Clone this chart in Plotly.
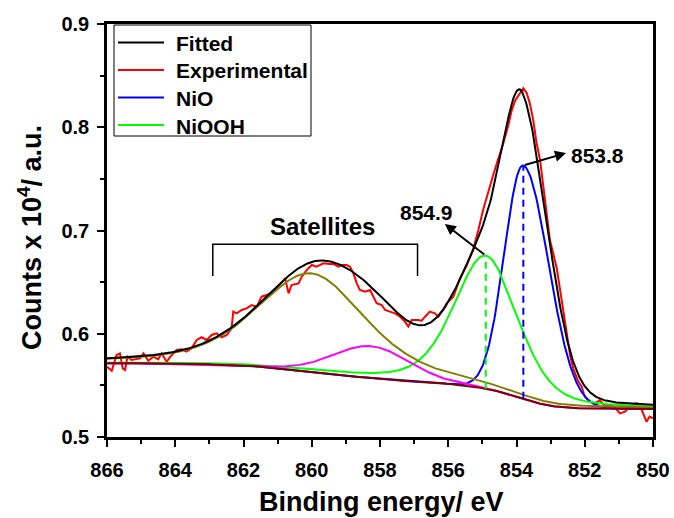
import numpy as np
import plotly.graph_objects as go

# Ni 2p3/2 spectrum: binding energy (eV) and counts (x 10^4)
exp_be = [866.00, 865.86, 865.72, 865.62, 865.54, 865.47, 865.40, 865.28, 865.18, 865.03,
          864.93, 864.79, 864.64, 864.50, 864.40, 864.25, 864.15, 863.96, 863.81, 863.67,
          863.52, 863.37, 863.23, 863.08, 862.93, 862.79, 862.64, 862.49, 862.35, 862.30,
          862.20, 862.05, 861.91, 861.76, 861.61, 861.47, 861.32, 861.17, 861.03, 860.88,
          860.78, 860.68, 860.59, 860.39, 860.29, 860.15, 860.00, 859.86, 859.66, 859.47,
          859.37, 859.22, 859.12, 858.98, 858.88, 858.78, 858.68, 858.59, 858.44, 858.29,
          858.19, 858.10, 857.95, 857.85, 857.71, 857.56, 857.41, 857.27, 857.17, 857.07,
          856.88, 856.78, 856.68, 856.54, 856.39, 856.29, 856.15, 856.05, 855.95, 855.85,
          855.66, 855.46, 855.27, 855.12, 854.98, 854.83, 854.68, 854.54, 854.39, 854.24,
          854.15, 854.04, 853.90, 853.80, 853.70, 853.61, 853.51, 853.41, 853.31, 853.21,
          853.12, 853.02, 852.82, 852.67, 852.53, 852.43, 852.34, 852.19, 852.09, 852.00,
          851.85, 851.70, 851.56, 851.41, 851.26, 851.12, 850.97, 850.82, 850.68, 850.48,
          850.34, 850.19, 850.10, 850.00]
exp_counts = [0.5681, 0.5642, 0.5794, 0.5810, 0.5665, 0.5649, 0.5778, 0.5746, 0.5752, 0.5762,
              0.5810, 0.5739, 0.5778, 0.5752, 0.5810, 0.5729, 0.5776, 0.5843, 0.5849, 0.5826,
              0.5859, 0.5940, 0.5966, 0.5940, 0.5988, 0.6004, 0.5966, 0.5988, 0.6053, 0.6214,
              0.6198, 0.6230, 0.6246, 0.6278, 0.6262, 0.6359, 0.6375, 0.6392, 0.6440, 0.6504,
              0.6537, 0.6392, 0.6472, 0.6488, 0.6553, 0.6617, 0.6666, 0.6650, 0.6682, 0.6676,
              0.6676, 0.6650, 0.6666, 0.6666, 0.6650, 0.6585, 0.6488, 0.6424, 0.6407, 0.6424,
              0.6359, 0.6295, 0.6278, 0.6230, 0.6214, 0.6198, 0.6165, 0.6117, 0.6069, 0.6133,
              0.6133, 0.6127, 0.6165, 0.6214, 0.6198, 0.6165, 0.6230, 0.6295, 0.6327, 0.6359,
              0.6530, 0.6660, 0.6820, 0.7000, 0.7199, 0.7380, 0.7540, 0.7690, 0.7840, 0.8020,
              0.8150, 0.8260, 0.8330, 0.8377, 0.8329, 0.8232, 0.8070, 0.7844, 0.7683, 0.7425,
              0.7167, 0.6908, 0.6634, 0.6311, 0.5988, 0.5794, 0.5665, 0.5536, 0.5487, 0.5390,
              0.5342, 0.5326, 0.5358, 0.5300, 0.5310, 0.5287, 0.5229, 0.5245, 0.5294, 0.5326,
              0.5268, 0.5148, 0.5197, 0.5181]

# Fitted components (pseudo-Voigt on a Shirley background);
# widths are given separately for the high- and low-binding-energy halves
comp_names = ["NiO", "NiOOH", "Satellite 1", "Satellite 2"]
comp_center = [853.8, 854.9, 860.0, 858.25]
comp_height = [0.226, 0.129, 0.095, 0.031]
comp_fwhm_high = [1.30, 2.2, 3.8, 2.6]
comp_fwhm_low = [1.75, 2.2, 3.8, 2.6]
comp_lorentz = [0.0, 0.4, 0.5, 0.0]
comp_color = ["#0000FF", "#00FF00", "#808000", "#FF00FF"]

# Shirley background end points (low / high binding-energy side)
bg_low = 0.527
bg_high = 0.5715

x_ticks = [866, 864, 862, 860, 858, 856, 854, 852, 850]
y_ticks = [0.5, 0.6, 0.7, 0.8, 0.9]


def pseudo_voigt(x, c, h, w_high, w_low, m):
    w = np.where(x >= c, w_high, w_low)
    u = 4.0 * (x - c) ** 2 / w ** 2
    return h * (m / (1.0 + u) + (1.0 - m) * np.exp(-np.log(2.0) * u))


be = np.linspace(850.0, 866.0, 641)
peaks = [pseudo_voigt(be, c, h, wh, wl, m)
         for c, h, wh, wl, m in zip(comp_center, comp_height, comp_fwhm_high,
                                    comp_fwhm_low, comp_lorentz)]
total = np.sum(peaks, axis=0)
step = be[1] - be[0]
cum = np.concatenate([[0.0], np.cumsum((total[1:] + total[:-1]) / 2.0 * step)])
background = bg_low + (bg_high - bg_low) * cum / cum[-1]
fitted = background + total

FONT = "Liberation Sans, Arial, sans-serif"

fig = go.Figure()

fig.add_trace(go.Scatter(x=exp_be, y=exp_counts, mode="lines",
                         line=dict(color="#FF0000", width=2), showlegend=False))
for name, pk, col in zip(comp_names, peaks, comp_color):
    fig.add_trace(go.Scatter(x=be, y=background + pk, mode="lines", name=name,
                             line=dict(color=col, width=2), showlegend=False))
fig.add_trace(go.Scatter(x=be, y=background, mode="lines",
                         line=dict(color="#800000", width=2), showlegend=False))
fig.add_trace(go.Scatter(x=be, y=fitted, mode="lines",
                         line=dict(color="#000000", width=2), showlegend=False))

# dashed markers at the NiO and NiOOH peak positions
peak_tops = []
for c, h, col in zip(comp_center[:2], comp_height[:2], comp_color[:2]):
    b = float(np.interp(c, be, background))
    peak_tops.append(b + h)
    fig.add_trace(go.Scatter(x=[c, c], y=[b, b + h], mode="lines",
                             line=dict(color=col, width=2, dash="7px,5px"),
                             showlegend=False))


def px_x(p):
    return (p - 107) / 546.0


def px_y(p):
    return (437 - p) / 413.0


def label(x, y, text, size, **kw):
    d = dict(xref="paper", yref="paper", x=x, y=y, text=text, showarrow=False,
             xanchor="center", yanchor="middle",
             font=dict(family=FONT, size=size, color="black", weight="bold"))
    d.update(kw)
    return d


# boxed key in the upper-left corner
shapes = [dict(type="rect", xref="paper", yref="paper",
               x0=px_x(114), x1=px_x(311), y0=px_y(136), y1=px_y(25),
               line=dict(color="black", width=1), fillcolor="white", layer="above")]
annotations = []
legend_items = [("Fitted", "#000000", 42.5), ("Experimental", "#FF0000", 70),
                ("NiO", "#0000FF", 97.5), ("NiOOH", "#00FF00", 125)]
for text, col, py in legend_items:
    shapes.append(dict(type="line", xref="paper", yref="paper",
                       x0=px_x(118), x1=px_x(164), y0=px_y(py), y1=px_y(py),
                       line=dict(color=col, width=2), layer="above"))
    annotations.append(label(px_x(174), px_y(py + 1), text, 21, xanchor="left"))

# satellites bracket
shapes.append(dict(type="path", xref="x", yref="y",
                   path="M 862.9 0.656 L 862.9 0.6866 L 856.9 0.6866 L 856.9 0.656",
                   line=dict(color="black", width=1.5)))
annotations.append(label(px_x(322), px_y(226), "Satellites", 24))

# arrows from the peak tops to the position labels
for (hx, hy), c, top in [((856.10, 0.7063), comp_center[1], peak_tops[1]),
                          ((852.55, 0.775), comp_center[0], peak_tops[0])]:
    annotations.append(dict(xref="x", yref="y", axref="x", ayref="y",
                            x=hx, y=hy, ax=c, ay=top,
                            text="", showarrow=True, arrowhead=2, arrowsize=1.1,
                            arrowwidth=2, arrowcolor="black", standoff=0, startstandoff=0))
annotations.append(label(px_x(426), px_y(212), f"{comp_center[1]:.1f}", 21))
annotations.append(label(px_x(597.5), px_y(155), f"{comp_center[0]:.1f}", 21))

# axis titles
annotations.append(label(px_x(381), px_y(502), "Binding energy/ eV", 27))
annotations.append(label(px_x(30), px_y(238), "Counts x 10<sup>4</sup>/ a.u.", 27,
                         textangle=-90))

axis_common = dict(showline=True, linecolor="black", linewidth=2.5, mirror=True,
                   ticks="outside", ticklen=7, tickwidth=2, tickcolor="black",
                   showgrid=False, zeroline=False, automargin=False,
                   tickfont=dict(family=FONT, size=20, color="black", weight="bold"))

fig.update_layout(
    width=674, height=518,
    margin=dict(l=107, r=21, t=24, b=81),
    paper_bgcolor="white", plot_bgcolor="white",
    showlegend=False,
    shapes=shapes, annotations=annotations,
    xaxis=dict(range=[866, 850], tickmode="array", tickvals=x_ticks,
               ticktext=[str(v) for v in x_ticks], ticklabelstandoff=6,
               minor=dict(ticks="outside", ticklen=4, tickwidth=2, tickcolor="black", dtick=1),
               **axis_common),
    yaxis=dict(range=[0.5, 0.9], tickmode="array", tickvals=y_ticks,
               ticktext=[f"{v:.1f}" for v in y_ticks], ticklabelstandoff=4,
               minor=dict(ticks="outside", ticklen=4, tickwidth=2, tickcolor="black", dtick=0.05),
               **axis_common),
)

fig.write_html("out.html")
